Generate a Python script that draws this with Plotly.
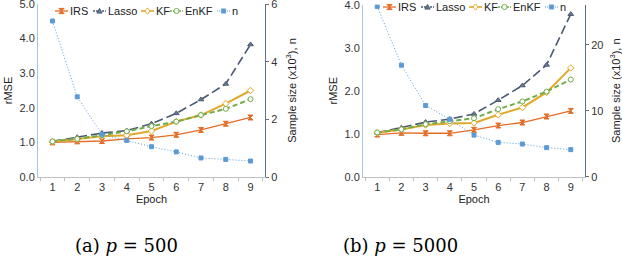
import plotly.graph_objects as go

epochs = ["1", "2", "3", "4", "5", "6", "7", "8", "9"]

# Panel (a) p = 500
irs_a = [1.00, 1.03, 1.04, 1.10, 1.14, 1.22, 1.36, 1.54, 1.72]
lasso_a = [1.03, 1.15, 1.27, 1.34, 1.54, 1.84, 2.24, 2.69, 3.83]
kf_a = [1.02, 1.10, 1.18, 1.21, 1.33, 1.60, 1.79, 2.12, 2.50]
enkf_a = [1.03, 1.10, 1.21, 1.32, 1.47, 1.60, 1.79, 1.97, 2.25]
n_a = [5.41, 2.78, 1.48, 1.27, 1.05, 0.87, 0.66, 0.61, 0.555]

# Panel (b) p = 5000
irs_b = [0.98, 1.02, 1.01, 1.01, 1.09, 1.19, 1.26, 1.40, 1.53]
lasso_b = [1.02, 1.14, 1.27, 1.34, 1.46, 1.78, 2.12, 2.60, 3.78]
kf_b = [1.02, 1.10, 1.20, 1.24, 1.25, 1.44, 1.61, 1.96, 2.53]
enkf_b = [1.03, 1.10, 1.22, 1.29, 1.36, 1.57, 1.75, 1.98, 2.26]
n_b = [25.8, 16.9, 10.8, 8.7, 6.3, 5.2, 4.95, 4.4, 4.1]

series_names = ["IRS", "Lasso", "KF", "EnKF", "n"]
captions = ["(a) <i>p</i> = 500", "(b) <i>p</i> = 5000"]

FONT = "Liberation Sans, Arial, sans-serif"
W, H = 622, 260


def fx(px):
    return px / W


def fy(py):
    return 1 - py / H


# styles per series
STY = {
    "IRS": dict(color="#E46C25", width=1.3, dash="solid", sym="hourglass", mfill="#E46C25", msize=5),
    "Lasso": dict(color="#4A5A72", width=1.6, dash="9px,4px", sym="triangle-up", mfill="#6B7A90", msize=5),
    "KF": dict(color="#E2A82A", width=2, dash="solid", sym="diamond", mfill="white", msize=5),
    "EnKF": dict(color="#70AD47", width=2, dash="5px,3px", sym="circle", mfill="white", msize=5),
    "n": dict(color="#5B9BD5", width=1, dash="1px,2px", sym="square", mfill="#5B9BD5", msize=4),
}

fig = go.Figure()

panels = [
    dict(data=(irs_a, lasso_a, kf_a, enkf_a, n_a), x="x", y="y", y2="y2"),
    dict(data=(irs_b, lasso_b, kf_b, enkf_b, n_b), x="x2", y="y3", y2="y4"),
]

order = [4, 0, 1, 2, 3]  # draw n first (behind)
for p in panels:
    for i in order:
        name = series_names[i]
        s = STY[name]
        fig.add_trace(go.Scatter(
            x=epochs, y=p["data"][i], name=name, xaxis=p["x"],
            yaxis=p["y2"] if name == "n" else p["y"],
            mode="lines+markers", showlegend=False,
            line=dict(color=s["color"], width=s["width"], dash=s["dash"]),
            marker=dict(symbol=s["sym"], size=s["msize"], color=s["mfill"],
                        line=dict(color=s["color"], width=1)),
        ))

tickfont = dict(family=FONT, size=11, color="#333333")
titlefont = dict(family=FONT, size=11, color="#222222")

xcommon = dict(type="category", tickson="boundaries", ticks="outside", ticklen=3,
               tickcolor="#BFBFBF", showline=True, linecolor="#BFBFBF", linewidth=1,
               showgrid=False, tickfont=tickfont, automargin=False,
               title=dict(text="Epoch", font=titlefont, standoff=2))
yleft = dict(showgrid=False, zeroline=False, showline=True, tickfont=tickfont, ticks="",
             automargin=False, linecolor="#A9C4E0", ticklabeloverflow="allow",
             title=dict(text="rMSE", font=titlefont, standoff=4))
yright = dict(showgrid=False, zeroline=False, showline=True, tickfont=tickfont,
              automargin=False, linecolor="#5F7088", ticks="outside", ticklen=3, tickcolor="#5F7088",
              ticklabeloverflow="allow", side="right",
              title=dict(text="Sample size (x10<sup>3</sup>), n", font=titlefont, standoff=11))

fig.update_layout(
    width=W, height=H, margin=dict(l=0, r=0, t=0, b=0, autoexpand=False),
    paper_bgcolor="white", plot_bgcolor="white", showlegend=False,
    xaxis=dict(domain=[fx(38), fx(265)], anchor="y", **xcommon),
    xaxis2=dict(domain=[fx(363), fx(585)], anchor="y3", **xcommon),
    yaxis=dict(domain=[fy(177), fy(4)], anchor="x", range=[0, 5], dtick=1, tickformat=".1f", **yleft),
    yaxis2=dict(domain=[fy(177), fy(4)], anchor="x", overlaying="y", range=[0, 6], dtick=2, **yright),
    yaxis3=dict(domain=[fy(176.7), fy(4.7)], anchor="x2", range=[0, 4], dtick=1, tickformat=".1f", **yleft),
    yaxis4=dict(domain=[fy(176.7), fy(4.7)], anchor="x2", overlaying="y3", range=[0, 26.06],
                tickvals=[0, 10, 20], **yright),
)

# ---- legends (drawn in the layout, one per panel) ----
leg_offsets = [0, 38, 86, 115, 162]   # entry start offsets in px
leg_origin = [(55, 11), (383, 7)]     # (x, y) px of first entry
SYM_W = 13


def marker_shape(sym, cx, cy, col, fill):
    r = 2.6
    X = lambda v: fx(v)
    Y = lambda v: fy(v)
    if sym == "circle":
        return dict(type="circle", xref="paper", yref="paper", x0=X(cx - r), x1=X(cx + r),
                    y0=Y(cy + r), y1=Y(cy - r), line=dict(color=col, width=1), fillcolor=fill)
    if sym == "square":
        r = 2.2
        return dict(type="rect", xref="paper", yref="paper", x0=X(cx - r), x1=X(cx + r),
                    y0=Y(cy + r), y1=Y(cy - r), line=dict(color=col, width=0.5), fillcolor=fill)
    if sym == "diamond":
        pts = [(cx, cy - r - 0.5), (cx + r, cy), (cx, cy + r + 0.5), (cx - r, cy)]
    elif sym == "triangle-up":
        pts = [(cx, cy - r), (cx + r, cy + r * 0.8), (cx - r, cy + r * 0.8)]
    else:  # hourglass
        pts = [(cx - r, cy - r), (cx + r, cy - r), (cx - r, cy + r), (cx + r, cy + r)]
    path = "M" + " L".join(f"{X(a):.5f},{Y(b):.5f}" for a, b in pts) + " Z"
    return dict(type="path", xref="paper", yref="paper", path=path,
                line=dict(color=col, width=1), fillcolor=fill)


for (ox, oy) in leg_origin:
    for k, name in enumerate(series_names):
        s = STY[name]
        sx = ox + leg_offsets[k]
        fig.add_shape(type="line", xref="paper", yref="paper",
                      x0=fx(sx), x1=fx(sx + SYM_W), y0=fy(oy), y1=fy(oy),
                      line=dict(color=s["color"], width=min(s["width"], 1.6),
                                dash="2px,1px" if s["dash"] != "solid" and name != "n" else
                                ("1px,1px" if name == "n" else "solid")))
        fig.add_shape(marker_shape(s["sym"], sx + SYM_W / 2, oy, s["color"], s["mfill"]))
        fig.add_annotation(text=name, xref="paper", yref="paper", x=fx(sx + SYM_W), y=fy(oy),
                           xanchor="left", yanchor="middle", showarrow=False,
                           font=dict(family=FONT, size=11, color="#222222"))

serif = dict(family="DejaVu Serif, Liberation Serif, serif", size=18, color="black")
fig.add_annotation(text=captions[0], xref="paper", yref="paper", x=fx(126), y=fy(245),
                   xanchor="center", yanchor="middle", showarrow=False, font=serif)
fig.add_annotation(text=captions[1], xref="paper", yref="paper", x=fx(400), y=fy(245),
                   xanchor="center", yanchor="middle", showarrow=False, font=serif)

fig.write_html("out.html", config={"displayModeBar": False},
               post_script="document.body.style.margin='0';")
